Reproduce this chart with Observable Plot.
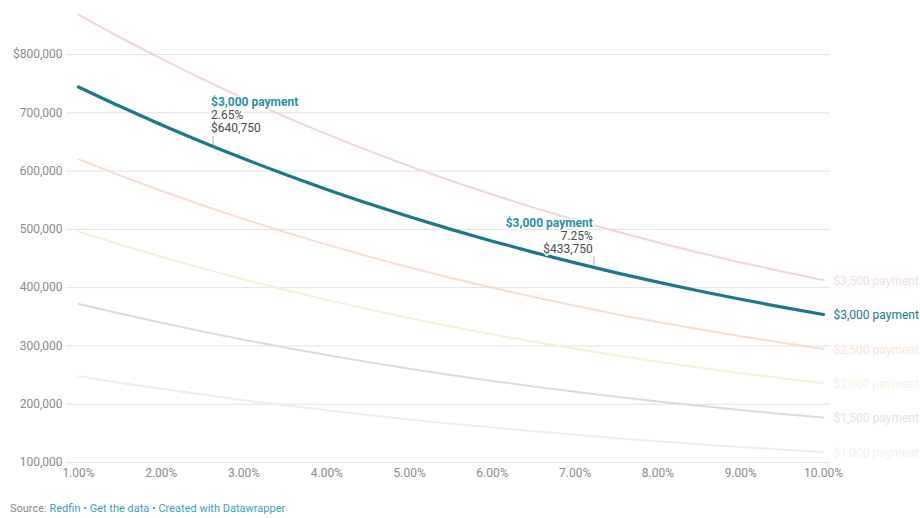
<!DOCTYPE html>
<html>
<head>
<meta charset="utf-8">
<script src="https://cdn.jsdelivr.net/npm/d3@7"></script>
<script src="https://cdn.jsdelivr.net/npm/@observablehq/plot@0.6"></script>
<style>
  html, body { margin: 0; padding: 0; background: #fff; }
  body { width: 920px; height: 518px; overflow: hidden; font-family: Roboto, "Noto Sans", sans-serif; }
  #chart { position: absolute; left: 0; top: 0; }
  #footer { position: absolute; left: 10px; top: 502px; font-size: 11px; color: #888; font-family: Roboto, sans-serif; }
  #footer .l { color: #3b9fb8; }
</style>
</head>
<body>
<div id="chart"></div>
<div id="footer">Source: <span class="l">Redfin</span><span class="l"> • Get the data • Created with Datawrapper</span></div>
<script>
const rates = [1, 1.5, 2, 2.5, 3, 3.5, 4, 4.5, 5, 5.5, 6, 6.5, 7, 7.5, 8, 8.5, 9, 9.5, 10];
const payments = ["$3,500 payment", "$3,000 payment", "$2,500 payment", "$2,000 payment", "$1,500 payment", "$1,000 payment"];
const v3500 = [868400, 829600, 792900, 757900, 724600, 693100, 663300, 635100, 608400, 583300, 559700, 537300, 516300, 496300, 477600, 460000, 443300, 427700, 412900];
const v3000 = [744300, 711100, 679600, 649600, 621100, 594100, 568500, 544400, 521500, 500000, 479700, 460500, 442500, 425400, 409400, 394300, 380000, 366600, 353900];
const v2500 = [620300, 592600, 566300, 541300, 517600, 495100, 473800, 453700, 434600, 416700, 399800, 383800, 368800, 354500, 341200, 328600, 316700, 305500, 294900];
const v2000 = [496200, 474100, 453100, 433100, 414100, 396100, 379000, 362900, 347700, 333300, 319800, 307000, 295000, 283600, 272900, 262900, 253300, 244400, 235900];
const v1500 = [372200, 355600, 339800, 324800, 310600, 297100, 284300, 272200, 260800, 250000, 239900, 230300, 221300, 212700, 204700, 197200, 190000, 183300, 177000];
const v1000 = [248100, 237000, 226500, 216500, 207000, 198000, 189500, 181500, 173800, 166700, 159900, 153500, 147500, 141800, 136500, 131400, 126700, 122200, 118000];
const seriesValues = [v3500, v3000, v2500, v2000, v1500, v1000];
const colors = ["#f1d3d8", "#19798b", "#f9dccd", "#f0f2d9", "#dcd9de", "#ececef"];
const labelColors = ["#f3dde0", "#19798b", "#fae3d7", "#f2f3e0", "#e3e1e5", "#efeff1"];
const yTicks = [100000, 200000, 300000, 400000, 500000, 600000, 700000, 800000];
const xTicks = [1, 2, 3, 4, 5, 6, 7, 8, 9, 10];

const annotations = [
  {rate: 2.65, value: 640750, title: "$3,000 payment", rateLabel: "2.65%", valueLabel: "$640,750", anchor: "start"},
  {rate: 7.25, value: 433750, title: "$3,000 payment", rateLabel: "7.25%", valueLabel: "$433,750", anchor: "end"}
];

const rows = [];
payments.forEach((p, i) => rates.forEach((r, j) => rows.push({payment: p, idx: i, rate: r, value: seriesValues[i][j]})));
const ends = payments.map((p, i) => ({payment: p, idx: i, rate: rates[rates.length - 1], value: seriesValues[i][rates.length - 1]}));
const faint = rows.filter(d => d.idx !== 1);
const main = rows.filter(d => d.idx === 1);

function annotationText(anchor) {
  const data = annotations.filter(d => d.anchor === anchor);
  const dx = anchor === "start" ? -4 : -3;
  const common = {x: "rate", y: "value", textAnchor: anchor, dx, fontSize: 12, stroke: "white", strokeWidth: 3};
  return [
    Plot.text(data, {...common, text: "title", dy: -45, fill: "#2a8fa6", fontWeight: 700}),
    Plot.text(data, {...common, text: "rateLabel", dy: -32, fill: "#4a4a4a"}),
    Plot.text(data, {...common, text: "valueLabel", dy: -19, fill: "#4a4a4a"})
  ];
}

const plot = Plot.plot({
  width: 920,
  height: 485,
  marginLeft: 66,
  marginRight: 90,
  marginTop: 0,
  marginBottom: 23,
  style: {fontFamily: "Roboto, sans-serif", fontSize: "12px", background: "#fff"},
  x: {type: "linear", domain: [1, 10], range: [78, 823]},
  y: {type: "linear", domain: [100000, 800000], range: [462, 54]},
  color: {domain: payments, range: colors},
  marks: [
    Plot.gridY(yTicks, {stroke: "#e2e2e2", strokeOpacity: 1, strokeWidth: 1}),
    Plot.axisY(yTicks, {tickSize: 0, tickPadding: 4, fill: "#8a8a8a", fontSize: 12,
      tickFormat: d => (d === 800000 ? "$" : "") + d3.format(",")(d), label: null}),
    Plot.axisX(xTicks, {tickSize: 0, tickPadding: 6, fill: "#8a8a8a", fontSize: 12,
      tickFormat: d => d.toFixed(2) + "%", label: null}),
    Plot.lineY(faint, {x: "rate", y: "value", z: "payment", stroke: "payment", strokeWidth: 2, curve: "monotone-x"}),
    Plot.lineY(main, {x: "rate", y: "value", stroke: "payment", strokeWidth: 3.2, curve: "monotone-x"}),
    Plot.text(ends, {x: "rate", y: "value", text: "payment", dx: 10, dy: 1, textAnchor: "start",
      fill: d => labelColors[d.idx], fontSize: 12, fontWeight: d => d.idx === 1 ? 500 : 400}),
    Plot.ruleX(annotations, {x: "rate", y1: "value", y2: "value", insetTop: -11, insetBottom: 2, stroke: "#aaa", strokeWidth: 1, dx: -2}),
    ...annotationText("start"),
    ...annotationText("end")
  ]
});
document.getElementById("chart").appendChild(plot);
</script>
</body>
</html>
